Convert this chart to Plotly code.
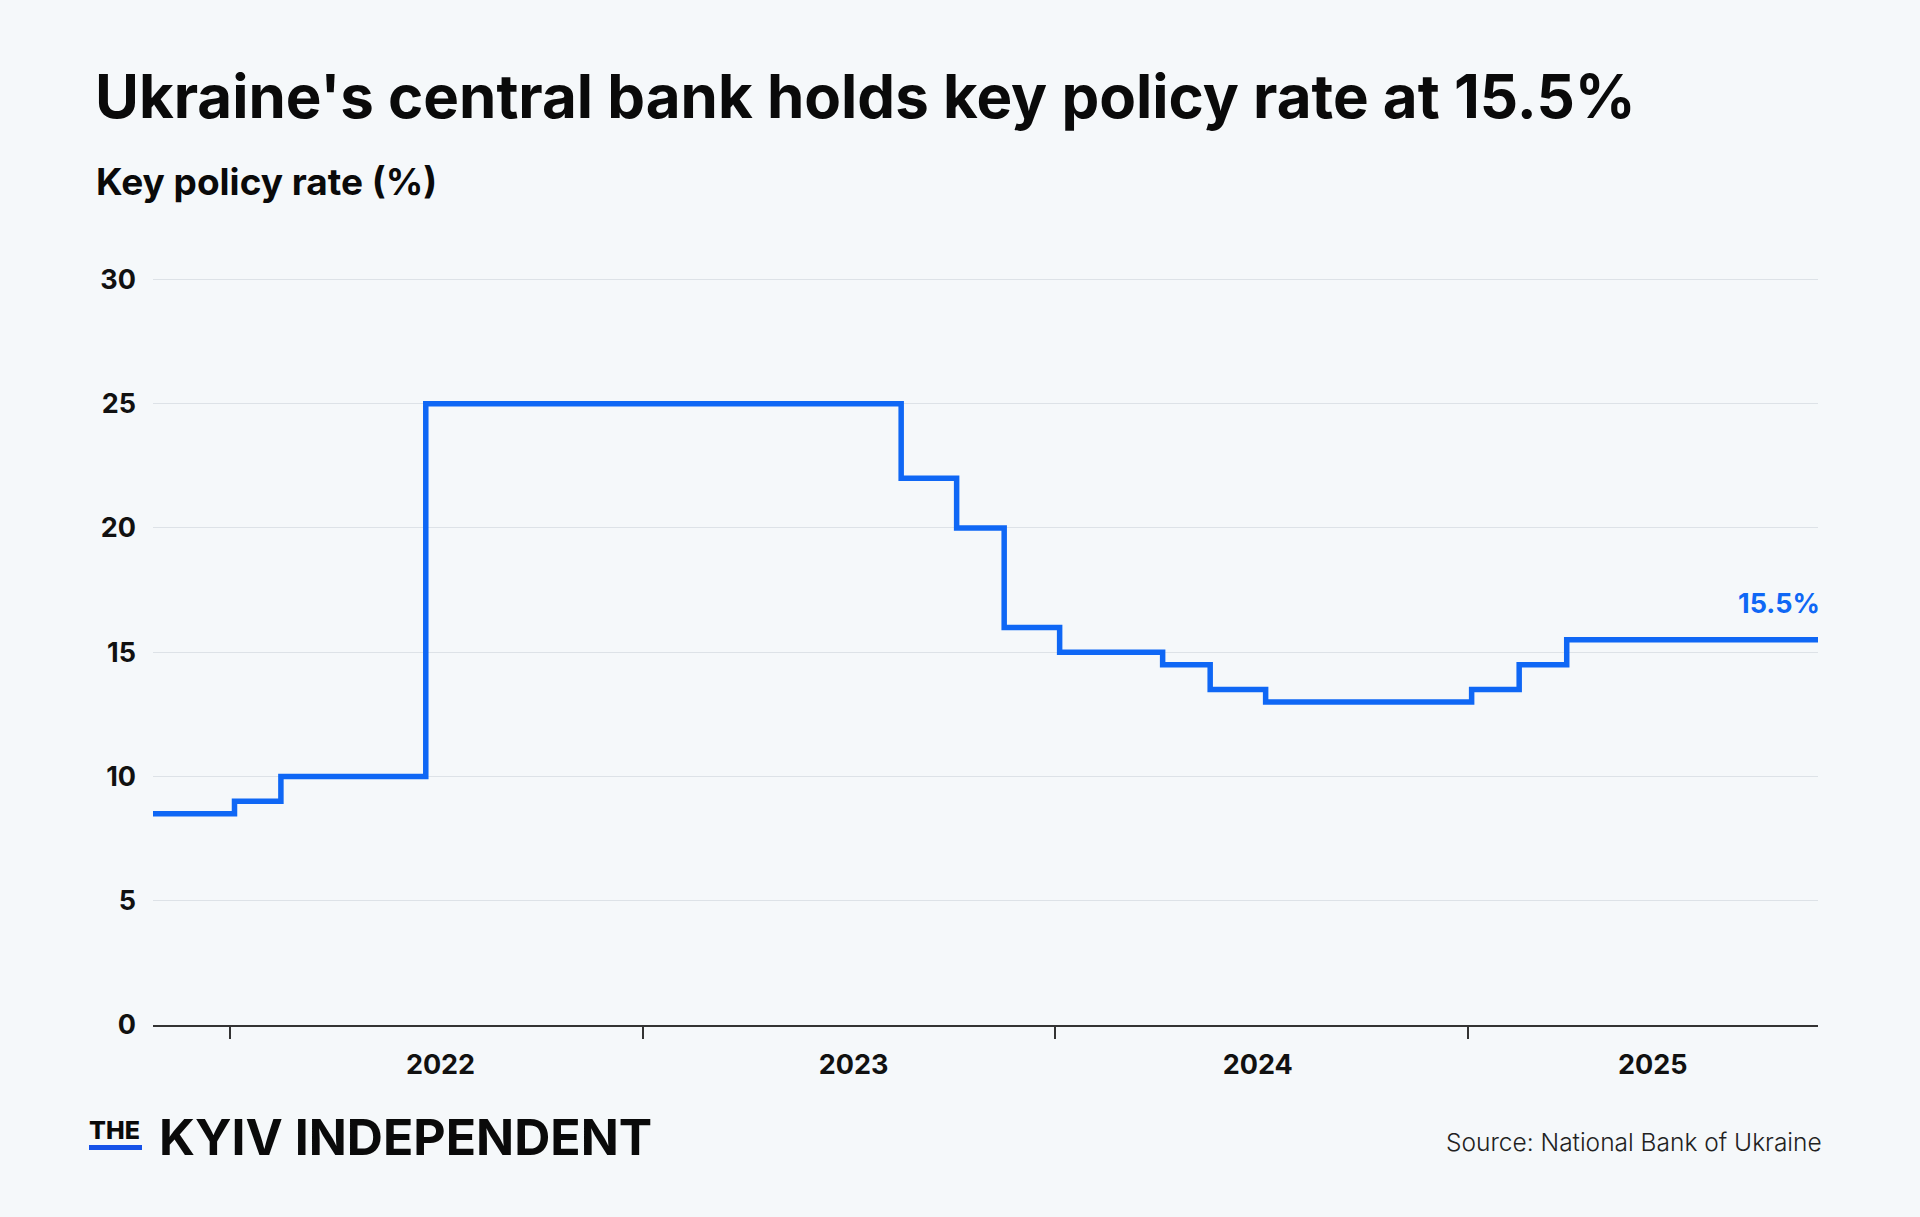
import plotly.graph_objects as go

# ---- data ----
dates = ["2021-10-05", "2021-12-16", "2022-01-26", "2022-06-03", "2023-07-28",
         "2023-09-15", "2023-10-27", "2023-12-15", "2024-03-15", "2024-04-26",
         "2024-06-14", "2024-12-13", "2025-01-24", "2025-03-07", "2025-10-15"]
rates = [8.5, 9, 10, 25, 22, 20, 16, 15, 14.5, 13.5, 13, 13.5, 14.5, 15.5, 15.5]

year_labels = ["2022", "2023", "2024", "2025"]
year_label_pos = ["2022-06-16", "2023-06-16", "2024-06-07", "2025-05-22"]
year_marks = ["2021-12-12", "2022-12-12", "2023-12-11", "2024-12-10"]
y_ticks = [0, 5, 10, 15, 20, 25, 30]
y_range = [0, 30.06]

title = "Ukraine's central bank holds key policy rate at 15.5%"
subtitle = "Key policy rate (%)"
source = "Source: National Bank of Ukraine"
end_label = "15.5%"

# ---- layout constants ----
W, H = 1920, 1217
L, R, T, B = 153, 1818, 278, 1025
BG = "#f5f8fa"
BLUE = "#0f67f5"
FONT = "Inter"


def px(x):
    return (x - L) / (R - L)


def py(y):
    return (B - y) / (B - T)


fig = go.Figure()
fig.add_trace(go.Scatter(
    x=dates, y=rates, mode="lines",
    line=dict(color=BLUE, width=5.5, shape="hv"),
    hoverinfo="skip", showlegend=False,
))

fig.update_layout(
    width=W, height=H,
    paper_bgcolor=BG, plot_bgcolor=BG,
    margin=dict(l=L, r=W - R, t=T, b=H - B, pad=0),
    font=dict(family=FONT, color="#111111"),
    xaxis=dict(
        type="date",
        range=[dates[0], dates[-1]],
        tickmode="array", tickvals=year_label_pos, ticktext=year_labels,
        ticks="", showgrid=False, zeroline=False,
        showline=True, linecolor="#333333", linewidth=2,
        tickfont=dict(family=FONT, size=27, color="#111111", weight=700),
        ticklabelstandoff=15,
        minor=dict(tickmode="array", tickvals=year_marks, ticks="outside",
                   ticklen=12, tickwidth=1.5, tickcolor="#333333", showgrid=False),
    ),
    yaxis=dict(
        range=y_range, tickmode="array", tickvals=y_ticks,
        showgrid=True, gridcolor="#dde2e7", gridwidth=1,
        zeroline=False, showline=False, ticks="",
        tickfont=dict(family=FONT, size=27, color="#111111", weight=700),
        ticklabelstandoff=16,
    ),
)

ann = []
ann.append(dict(text=title, x=px(93), y=py(96), xref="paper", yref="paper",
                xanchor="left", yanchor="middle", showarrow=False,
                font=dict(family=FONT, size=60, color="#0a0a0a", weight=700)))
ann.append(dict(text=subtitle, x=px(94), y=py(182), xref="paper", yref="paper",
                xanchor="left", yanchor="middle", showarrow=False,
                font=dict(family=FONT, size=37, color="#0a0a0a", weight=700)))
ann.append(dict(text=end_label, x=dates[-1], y=rates[-1], xref="x", yref="y",
                xanchor="right", yanchor="bottom", yshift=18, xshift=4, showarrow=False,
                font=dict(family=FONT, size=27, color=BLUE, weight=700)))
ann.append(dict(text="THE", x=px(87), y=py(1130), xref="paper", yref="paper",
                xanchor="left", yanchor="middle", showarrow=False,
                font=dict(family=FONT, size=25, color="#0a0a0a", weight=800)))
ann.append(dict(text="KYIV INDEPENDENT", x=px(157), y=py(1137), xref="paper", yref="paper",
                xanchor="left", yanchor="middle", showarrow=False,
                font=dict(family=FONT, size=50, color="#0a0a0a", weight=700)))
ann.append(dict(text=source, x=px(1824), y=py(1142), xref="paper", yref="paper",
                xanchor="right", yanchor="middle", showarrow=False,
                font=dict(family=FONT, size=24.5, color="#222222", weight=300)))
fig.update_layout(annotations=ann)

fig.add_shape(type="rect", xref="paper", yref="paper",
              x0=px(89), x1=px(142), y0=py(1145), y1=py(1150),
              fillcolor="#1652e8", line=dict(width=0))

fig.write_html("out.html",
               config={"displayModeBar": False},
               post_script="document.body.style.margin='0px';"
                           "document.body.style.background='#f5f8fa';")
